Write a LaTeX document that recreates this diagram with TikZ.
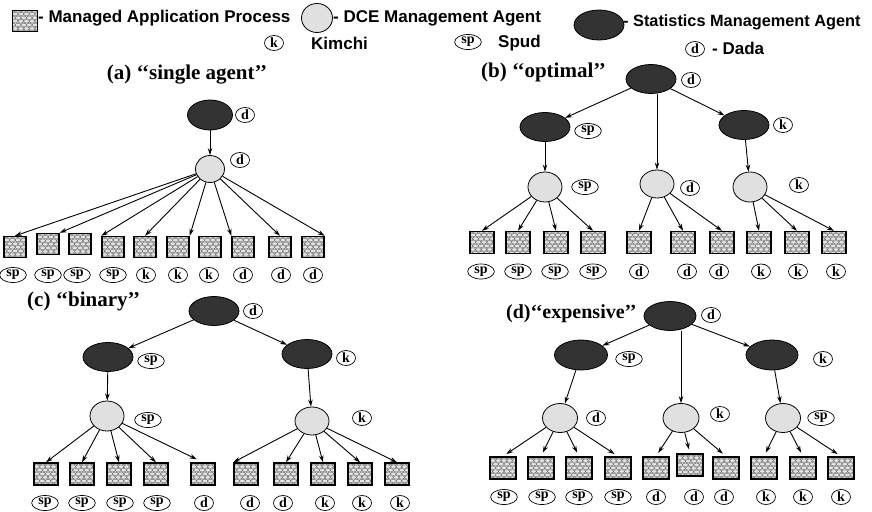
\documentclass[tikz,border=0pt]{standalone}
\usepackage{fontspec}
\setmainfont{Liberation Serif}
\newfontfamily\legfont{Liberation Sans}
\usetikzlibrary{shapes.geometric,arrows.meta,calc}
\newcommand{\openqq}{{`}{`}}
\newcommand{\closeqq}{{'}{'}}

\begin{document}
\begin{tikzpicture}[x=1pt,y=-1pt,
  sagent/.style={ellipse, draw=black, line width=0.8pt, fill=black!80,
    minimum width=50pt, minimum height=29pt, inner sep=0pt},
  dce/.style={ellipse, draw=black, line width=0.8pt, fill=black!12,
    minimum width=34pt, minimum height=30pt, inner sep=0pt},
  mesh/.style={path picture={
    \coordinate (pnw) at (path picture bounding box.north west);
    \foreach \rr in {0,...,6}{
      \foreach \cc in {-1,...,5}{
        \pgfmathsetmacro{\mx}{\cc*5.6+mod(\rr,2)*2.8}
        \pgfmathsetmacro{\my}{\rr*3.6}
        \draw[black!60, line width=0.4pt]
          ($(pnw)+(\mx,\my)$) ellipse [x radius=2.9pt, y radius=1.7pt];
      }}}},
  proc/.style={rectangle, draw=black, line width=1.4pt, fill=black!10,
    minimum width=24pt, minimum height=22pt, inner sep=0pt, mesh},
  tag/.style={ellipse, draw=black, line width=0.7pt, inner xsep=2.8pt, inner ysep=0pt,
    minimum width=19pt, minimum height=15pt,
    font=\fontsize{14}{14}\selectfont\bfseries},
  title/.style={font=\fontsize{21}{21}\selectfont\bfseries, inner sep=0pt, anchor=west},
  legend/.style={font=\legfont\fontsize{17}{17}\selectfont\bfseries,
    inner sep=0pt, anchor=west},
  conn/.style={-{Stealth[length=7pt,width=4.5pt]}, line width=0.9pt},
]
\useasboundingbox (0,0) rectangle (872,511);

% ---------------- legend ----------------
\node[proc, minimum width=25pt, minimum height=21pt] (Lp) at (25,21) {};
\node[legend] (LpT) at (38,18) {- Managed Application Process};
\node[dce, minimum width=31pt, minimum height=29pt] (Ld) at (317,18) {};
\node[legend] (LdT) at (333,18) {- DCE Management Agent};
\node[sagent, minimum height=30pt] (Ls) at (599,25) {};
\node[legend, font=\legfont\fontsize{16.3}{16.3}\selectfont\bfseries] (LsT) at (623,22)
  {- Statistics Management Agent};
\node[tag] (Lk) at (274,43) {k};
\node[legend] (LkT) at (311,43) {Kimchi};
\node[tag] (Lsp) at (468,42) {sp};
\node[legend] (LspT) at (498,43) {Spud};
\node[tag] (Ldd) at (695,49) {d};
\node[legend] (LddT) at (712,48) {- Dada};

% ---------------- (a) single agent ----------------
\node[title, anchor=center] (aTitle) at (187,75) {(a) \openqq single agent\closeqq};
\node[sagent, minimum width=45pt, minimum height=30pt] (aS) at (210,115) {};
\node[tag] at (245,115) {d};
\node[dce, minimum width=29pt, minimum height=27pt] (aC) at (210,169) {};
\node[tag] at (240,160) {d};
\draw[conn] (aS) -- (aC);
\foreach \x/\y/\tx/\t [count=\i] in
  {15/247/13/sp, 48/244/48/sp, 80/244/77/sp, 113/247/113/sp, 145/247/146/k,
   178/247/178/k, 210/247/209/k, 243/247/243/d, 280/247/281/d, 313/247/313/d}{
  \node[proc, minimum width=22pt, minimum height=21pt] (a\i) at (\x,\y) {};
  \node[tag] (at\i) at (\tx,275) {\t};
}
\foreach \n/\an in {1/north, 2/north east, 4/north west, 5/north,
                    6/north east, 8/north west, 9/north, 10/north east}{
  \draw[conn] (aC) -- (a\n.\an);
}

% ---------------- (b) optimal ----------------
\node[title] (bTitle) at (481,72) {(b) \openqq optimal\closeqq};
\node[sagent] (bS) at (651,79) {};
\node[tag] at (691,80) {d};
\node[sagent] (bSL) at (545,127) {};
\node[tag] at (588,131) {sp};
\node[sagent] (bSR) at (744,125) {};
\node[tag] at (783,125) {k};
\node[dce] (bCL) at (545,187) {};
\node[tag] at (585,187) {sp};
\node[dce, minimum height=28pt] (bCM) at (657,184) {};
\node[tag] at (690,188) {d};
\node[dce] (bCR) at (750,187) {};
\node[tag] at (799,185) {k};
\draw[conn] (bS) -- (bSL);
\draw[conn] (bS.south -| bCM) -- (bCM);
\draw[conn] (bS) -- (bSR);
\draw[conn] (bSL) -- (bCL);
\draw[conn] (bSR) -- (bCR);
\foreach \x/\tx/\t [count=\i] in
  {482/481/sp, 518/518/sp, 556/555/sp, 593/593/sp, 639/639/d,
   683/687/d, 722/719/d, 759/761/k, 797/798/k, 834/836/k}{
  \node[proc] (b\i) at (\x,242.5) {};
  \node[tag] (bt\i) at (\tx,271.5) {\t};
}
\foreach \n in {1,2,3,4}{ \draw[conn] (bCL) -- (b\n.north); }
\foreach \n in {5,6,7}{ \draw[conn] (bCM) -- (b\n.north); }
\foreach \n in {8,9,10}{ \draw[conn] (bCR) -- (b\n.north); }

% ---------------- (c) binary ----------------
\node[title] (cTitle) at (27,301) {(c) \openqq binary\closeqq};
\node[sagent] (cS) at (214,311) {};
\node[tag] at (253,311) {d};
\node[sagent] (cSL) at (108,357) {};
\node[tag] at (151,361) {sp};
\node[sagent] (cSR) at (307,354) {};
\node[tag] at (346,358) {k};
\node[dce] (cCL) at (107,416) {};
\node[tag] at (148,420) {sp};
\node[dce, minimum height=28pt] (cCR) at (312,421) {};
\node[tag] at (362,418) {k};
\draw[conn] (cS) -- (cSL);
\draw[conn] (cS) -- (cSR);
\draw[conn] (cSL) -- (cCL);
\draw[conn] (cSR) -- (cCR);
\foreach \x/\tx/\t [count=\i] in
  {46/45/sp, 82/82/sp, 119/120/sp, 156/157/sp, 203/204/d,
   246/250/d, 286/283/d, 323/325/k, 360/362/k, 397/400/k}{
  \node[proc] (c\i) at (\x,474) {};
  \node[tag] (ct\i) at (\tx,503) {\t};
}
\foreach \n in {1,2,3,4}{ \draw[conn] (cCL) -- (c\n.north); }
\draw[conn, shorten >=7pt] (cCL) -- (c5.north);
\draw[conn] (cCR) -- (c6.north west);
\foreach \n in {7,8,9,10}{ \draw[conn] (cCR) -- (c\n.north); }

% ---------------- (d) expensive ----------------
\node[title, font=\fontsize{20}{20}\selectfont\bfseries] (dTitle) at (506,314)
  {(d)\openqq expensive\closeqq};
\node[sagent, minimum width=52pt] (dS) at (670,316) {};
\node[tag] at (711,315) {d};
\node[sagent, minimum width=53pt, minimum height=30pt] (dSL) at (581,355) {};
\node[tag] at (629,359) {sp};
\node[sagent, minimum width=52pt, minimum height=30pt] (dSR) at (772,355) {};
\node[tag] at (823,359) {k};
\node[dce, minimum width=35pt, minimum height=29pt] (dCL) at (560,418) {};
\node[tag] at (596,418) {d};
\node[dce, minimum width=36pt, minimum height=29pt] (dCM) at (681,418) {};
\node[tag] at (720,414) {k};
\node[dce, minimum width=35pt, minimum height=29pt] (dCR) at (783,418) {};
\node[tag] at (821,418) {sp};
\draw[conn] (dS) -- (dSL);
\draw[conn] (dS.south -| dCM) -- (dCM);
\draw[conn] (dS) -- (dSR);
\draw[conn] (dSL) -- (dCL);
\draw[conn] (dSR) -- (dCR);
\foreach \x/\y/\tx/\t [count=\i] in
  {503/468/504/sp, 541/468/542/sp, 579/468/579/sp, 618/468/618/sp, 656/468/656/d,
   690/465/694/d, 726/468/724/d, 764/468/766/k, 803/468/803/k, 841/468/841/k}{
  \node[proc, minimum width=26pt] (d\i) at (\x,\y) {};
  \node[tag] (dt\i) at (\tx,497) {\t};
}
\foreach \n in {1,2,3,4}{ \draw[conn, shorten >=4pt] (dCL) -- (d\n.north); }
\foreach \n in {5,6,7}{ \draw[conn, shorten >=4pt] (dCM) -- (d\n.north); }
\foreach \n in {8,9,10}{ \draw[conn, shorten >=4pt] (dCR) -- (d\n.north); }
\end{tikzpicture}
\end{document}
